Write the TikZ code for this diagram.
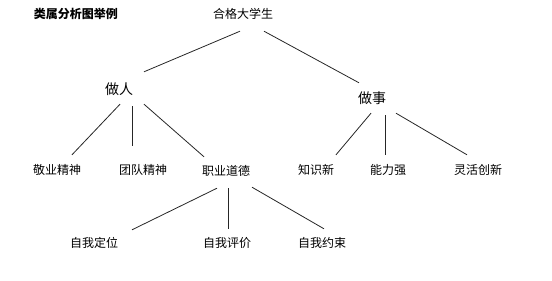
\documentclass[tikz,border=0pt]{standalone}
\usepackage{fontspec}
\newfontfamily\cjk{Noto Sans CJK SC}
\usepackage{tikz}

\begin{document}
\begin{tikzpicture}[x=1pt, y=-1pt,
  lbl/.style={inner sep=0pt, minimum height=30pt, align=center, font=\cjk\fontsize{12}{14}\selectfont},
  big/.style={lbl, font=\cjk\fontsize{14}{16}\selectfont},
  ttl/.style={inner sep=0pt, font=\cjk\bfseries\fontsize{12}{14}\selectfont},
  ln/.style={line width=0.8pt, draw=black!85}
]
\useasboundingbox (0,0) rectangle (552,281);
\node[ttl] (title) at (76,14) {类属分析图举例};
\node[lbl] (root) at (243,14) {合格大学生};
\node[big] (zr) at (119,89) {做人};
\node[big] (zs) at (372,98) {做事};
\node[lbl] (jy) at (57,170) {敬业精神};
\node[lbl] (td) at (143,170) {团队精神};
\node[lbl] (zd) at (226,171) {职业道德};
\node[lbl] (zx) at (316,170) {知识新};
\node[lbl] (nl) at (388,170) {能力强};
\node[lbl] (lh) at (478,170) {灵活创新};
\node[lbl] (dw) at (94,243) {自我定位};
\node[lbl] (pj) at (227,243) {自我评价};
\node[lbl] (ys) at (322,243) {自我约束};
% first level
\draw[ln] ([xshift=-3,yshift=-2]root.south) -- ([xshift=25,yshift=2]zr.north);
\draw[ln] ([xshift=21,yshift=-2]root.south) -- ([xshift=-13]zs.north);
% under zuo ren
\draw[ln] ([xshift=1]zr.south) -- ([xshift=15]jy.north);
\draw[ln] ([xshift=13,yshift=-2]zr.south) -- ([xshift=-11,yshift=9]td.north);
\draw[ln] ([xshift=25]zr.south) -- ([xshift=-22,yshift=-1]zd.north);
% under zuo shi
\draw[ln] ([xshift=-1]zs.south) -- ([xshift=20]zx.north);
\draw[ln] ([xshift=13,yshift=-2]zs.south) -- ([xshift=-3]nl.north);
\draw[ln] ([xshift=24]zs.south) -- ([xshift=-11]lh.north);
% under zhiye daode
\draw[ln] ([xshift=-9,yshift=-2]zd.south) -- ([xshift=38,yshift=-2]dw.north);
\draw[ln] ([xshift=2,yshift=-2]zd.south) -- ([xshift=1,yshift=-1]pj.north);
\draw[ln] ([xshift=26,yshift=-1]zd.south) -- ([xshift=2,yshift=-1]ys.north);
\end{tikzpicture}
\end{document}
